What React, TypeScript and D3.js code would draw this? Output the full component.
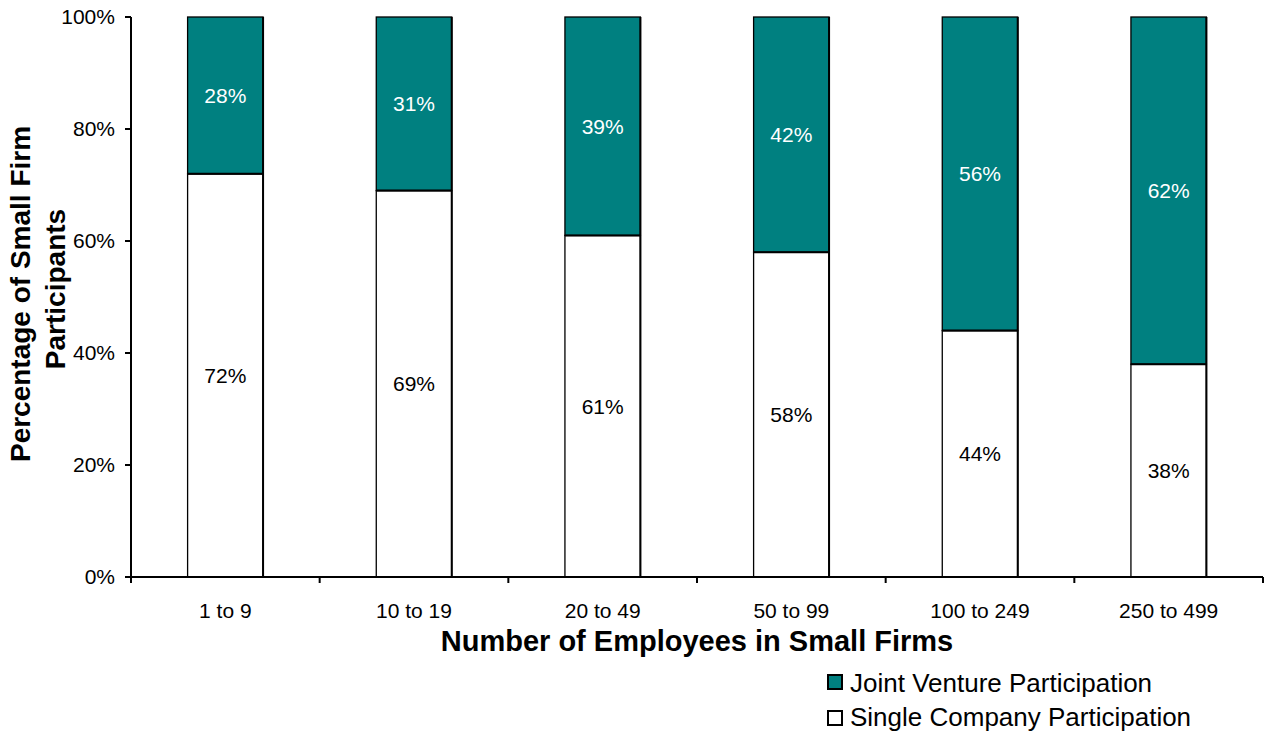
import React from "react";
import * as d3 from "d3";

const categories = ["1 to 9", "10 to 19", "20 to 49", "50 to 99", "100 to 249", "250 to 499"];
const singleCompany = [72, 69, 61, 58, 44, 38];
const jointVenture = [28, 31, 39, 42, 56, 62];
const yTicks = [0, 20, 40, 60, 80, 100];

const W = 1264, H = 732;
const left = 131, right = 1263, top = 17, bottom = 577;
const font = "Liberation Sans, Arial, sans-serif";
const teal = "#008080";

export default function App() {
  const x = d3.scaleBand<string>().domain(categories).range([left, right]).paddingInner(0.6).paddingOuter(0.3);
  const xb = d3.scaleBand<string>().domain(categories).range([left, right]);
  const y = d3.scaleLinear().domain([0, 100]).range([bottom, top]);
  const bw = x.bandwidth();
  return (
    <svg width={W} height={H} style={{ position: "absolute", left: 0, top: 0, background: "#fff" }} fontFamily={font}>
      {categories.map((c, i) => {
        const x0 = x(c)!;
        const s = singleCompany[i];
        const j = jointVenture[i];
        return (
          <g key={c}>
            <rect x={x0} y={y(s)} width={bw} height={y(0) - y(s)} fill="#fff" stroke="#000" strokeWidth={1.3} />
            <rect x={x0} y={y(100)} width={bw} height={y(s) - y(100)} fill={teal} stroke="#000" strokeWidth={1.3} />
            <line x1={x0 + bw} x2={x0 + bw} y1={y(100)} y2={y(0)} stroke="#000" strokeWidth={2} />
            <line x1={x0} x2={x0 + bw} y1={y(s)} y2={y(s)} stroke="#000" strokeWidth={2} />
            <text x={x0 + bw / 2} y={(y(100) + y(s)) / 2} dy="0.35em" textAnchor="middle" fontSize={21} fill="#fff">{j}%</text>
            <text x={x0 + bw / 2} y={(y(s) + y(0)) / 2} dy="0.35em" textAnchor="middle" fontSize={21} fill="#000">{s}%</text>
          </g>
        );
      })}
      <line x1={left} x2={left} y1={top} y2={bottom} stroke="#000" strokeWidth={2} />
      <line x1={left} x2={right} y1={bottom} y2={bottom} stroke="#000" strokeWidth={2} />
      {yTicks.map((t) => (
        <g key={t}>
          <line x1={left - 6} x2={left} y1={y(t)} y2={y(t)} stroke="#000" strokeWidth={2} />
          <text x={115} y={y(t)} dy="0.35em" textAnchor="end" fontSize={21}>{t}%</text>
        </g>
      ))}
      {categories.map((c, i) => (
        <g key={c}>
          <line x1={xb(c)!} x2={xb(c)!} y1={bottom} y2={bottom + 6} stroke="#000" strokeWidth={2} />
          {i === categories.length - 1 && (
            <line x1={xb(c)! + xb.bandwidth()} x2={xb(c)! + xb.bandwidth()} y1={bottom} y2={bottom + 6} stroke="#000" strokeWidth={2} />
          )}
          <text x={xb(c)! + xb.bandwidth() / 2} y={618} textAnchor="middle" fontSize={21}>{c}</text>
        </g>
      ))}
      <text x={(left + right) / 2} y={651} textAnchor="middle" fontSize={29} fontWeight="bold">Number of Employees in Small Firms</text>
      <text transform="translate(30,294) rotate(-90)" textAnchor="middle" fontSize={28} fontWeight="bold">Percentage of Small Firm</text>
      <text transform="translate(65,289) rotate(-90)" textAnchor="middle" fontSize={28} fontWeight="bold">Participants</text>
      <rect x={828} y={675} width={14} height={14} fill={teal} stroke="#000" strokeWidth={2} />
      <text x={850} y={692} fontSize={26}>Joint Venture Participation</text>
      <rect x={828} y={711} width={14} height={14} fill="#fff" stroke="#000" strokeWidth={2} />
      <text x={850} y={726} fontSize={26}>Single Company Participation</text>
    </svg>
  );
}
